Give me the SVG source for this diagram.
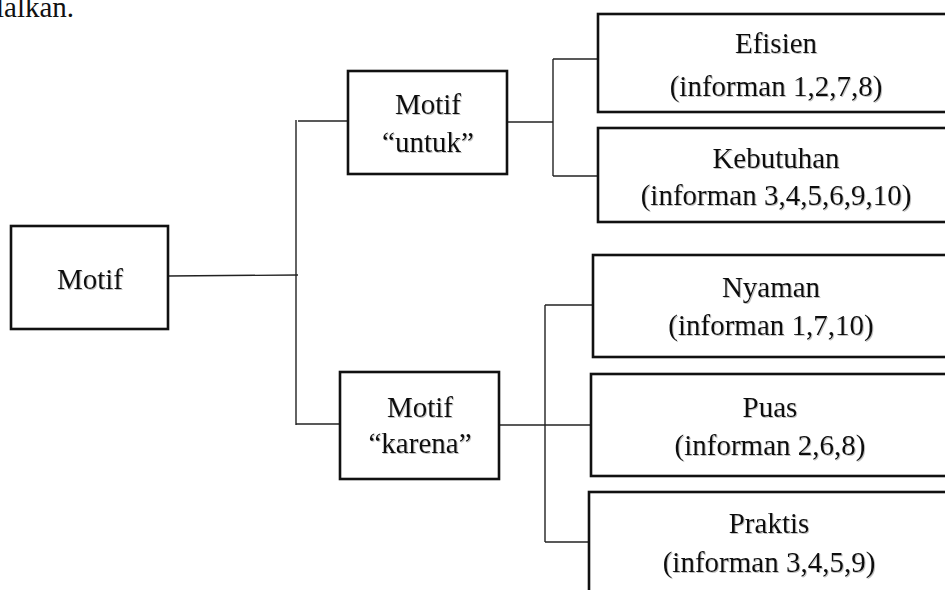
<svg xmlns="http://www.w3.org/2000/svg" width="945" height="590" viewBox="0 0 945 590">
<defs>
<filter id="sh" x="-10%" y="-20%" width="120%" height="150%">
<feDropShadow dx="1" dy="1" stdDeviation="0.7" flood-color="#777" flood-opacity="0.45"/>
</filter>
<style>
.box{fill:#fff;stroke:#111;stroke-width:2.6}
.ln{stroke:#222;stroke-width:1.4;fill:none}
text{font-family:"Liberation Serif","Times New Roman",serif;font-size:29px;fill:#111}
.c{text-anchor:middle;filter:url(#sh)}
</style>
</defs>
<rect width="945" height="590" fill="#fff"/>
<text x="-4" y="17">lalkan.</text>
<g id="connectors">
<line class="ln" x1="168" y1="276" x2="298" y2="275"/>
<line class="ln" x1="296" y1="120" x2="296" y2="425"/>
<line class="ln" x1="298" y1="121" x2="348" y2="121"/>
<line class="ln" x1="296" y1="424" x2="340" y2="424"/>
<line class="ln" x1="507" y1="122" x2="553" y2="122"/>
<line class="ln" x1="553" y1="59" x2="553" y2="176"/>
<line class="ln" x1="553" y1="59" x2="598" y2="59"/>
<line class="ln" x1="553" y1="176" x2="598" y2="176"/>
<line class="ln" x1="499" y1="425" x2="591" y2="425"/>
<line class="ln" x1="545" y1="305" x2="545" y2="542"/>
<line class="ln" x1="545" y1="305" x2="593" y2="305"/>
<line class="ln" x1="545" y1="542" x2="589" y2="542"/>
</g>
<g id="motif">
<rect class="box" x="11" y="226" width="157" height="103"/>
<text class="c" x="90" y="289">Motif</text>
</g>
<g id="motif-untuk">
<rect class="box" x="348" y="71" width="159" height="103"/>
<text class="c" x="428" y="114">Motif</text>
<text class="c" x="428" y="152">“untuk”</text>
</g>
<g id="motif-karena">
<rect class="box" x="340" y="372" width="159" height="107"/>
<text class="c" x="420" y="417">Motif</text>
<text class="c" x="420" y="453">“karena”</text>
</g>
<g id="efisien">
<rect class="box" x="598" y="14" width="360" height="98"/>
<text class="c" x="776" y="53">Efisien</text>
<text class="c" x="776" y="96">(informan 1,2,7,8)</text>
</g>
<g id="kebutuhan">
<rect class="box" x="598" y="128" width="360" height="94"/>
<text class="c" x="776" y="168">Kebutuhan</text>
<text class="c" x="776" y="205">(informan 3,4,5,6,9,10)</text>
</g>
<g id="nyaman">
<rect class="box" x="593" y="255" width="360" height="102"/>
<text class="c" x="771" y="297">Nyaman</text>
<text class="c" x="771" y="335">(informan 1,7,10)</text>
</g>
<g id="puas">
<rect class="box" x="591" y="374" width="360" height="102"/>
<text class="c" x="770" y="417">Puas</text>
<text class="c" x="770" y="455">(informan 2,6,8)</text>
</g>
<g id="praktis">
<rect class="box" x="589" y="492" width="360" height="100"/>
<text class="c" x="769" y="533">Praktis</text>
<text class="c" x="769" y="572">(informan 3,4,5,9)</text>
</g>
</svg>
